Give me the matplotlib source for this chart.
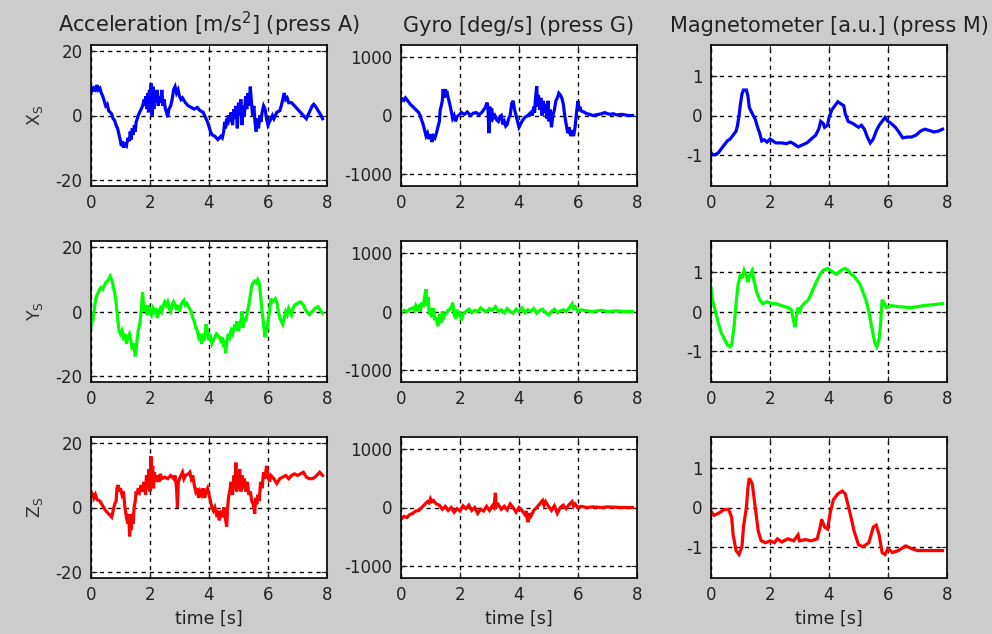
import matplotlib
matplotlib.use("Agg")
import matplotlib.pyplot as plt

plt.rcParams['font.family'] = ['DejaVu Sans']
plt.rcParams['mathtext.default'] = 'regular'
plt.rcParams['axes.unicode_minus'] = False

# (time [s], value) samples
acc_x = [(0.00, 7), (0.03, 9), (0.06, 7.5), (0.10, 8.5), (0.15, 8), (0.20, 9.5), (0.25, 8), (0.30, 8.5),
         (0.35, 7), (0.40, 6), (0.45, 4.5), (0.50, 3), (0.55, 3.5), (0.60, 1.5), (0.65, 1), (0.70, 0.5),
         (0.75, -1), (0.80, -1.5), (0.85, -3), (0.90, -4), (0.95, -6), (1.00, -8), (1.03, -9.5), (1.06, -8),
         (1.10, -10), (1.15, -9), (1.20, -9.5), (1.25, -7), (1.30, -8), (1.33, -5), (1.36, -7.5), (1.40, -4),
         (1.43, -6), (1.47, -3), (1.50, -5), (1.53, -2), (1.57, -1), (1.60, 0), (1.65, 1), (1.70, 2),
         (1.75, 3), (1.80, 5), (1.83, 3), (1.86, 6), (1.89, 2), (1.92, 7), (1.95, 1), (1.98, 8), (2.01, 3),
         (2.04, 10), (2.07, 0), (2.10, 9), (2.13, 2), (2.16, 7), (2.20, 4), (2.24, 8), (2.28, 3), (2.32, 6),
         (2.36, 4), (2.40, 8), (2.44, 3), (2.48, 5), (2.52, 2), (2.56, 1), (2.60, -0.5), (2.64, 2), (2.70, 3),
         (2.75, 5), (2.80, 8), (2.85, 9), (2.90, 7), (2.95, 8), (3.00, 6), (3.05, 5), (3.10, 5.5), (3.20, 4),
         (3.30, 3), (3.40, 2.5), (3.50, 2), (3.60, 2.5), (3.70, 1.5), (3.80, 1), (3.85, 0), (3.90, -1),
         (3.95, -2), (4.00, -3.5), (4.05, -5), (4.10, -6), (4.20, -6.5), (4.30, -7.5), (4.40, -6.5),
         (4.45, -7), (4.50, -5), (4.53, -2), (4.56, -4), (4.60, -1), (4.63, -3), (4.66, 0), (4.70, -2),
         (4.75, 1), (4.80, -3), (4.84, 2), (4.88, -1), (4.92, 3), (4.96, -4), (5.00, 4), (5.04, 0), (5.08, 5),
         (5.12, -3), (5.16, 3), (5.20, 0), (5.24, 6), (5.28, 2), (5.32, 7), (5.36, 3), (5.40, 9), (5.44, 4),
         (5.48, 0), (5.52, 3), (5.56, -2), (5.60, -5), (5.64, -1), (5.68, -4), (5.72, 0), (5.76, -2),
         (5.80, 1), (5.85, 3), (5.90, 2), (5.95, -1), (6.00, -3), (6.05, -2), (6.10, -1), (6.15, 0),
         (6.20, -1), (6.30, 1), (6.40, 1.5), (6.45, 3), (6.50, 5), (6.55, 7), (6.60, 5), (6.65, 5.5),
         (6.70, 4), (6.80, 4), (6.90, 3), (7.00, 2), (7.10, 1), (7.20, 0), (7.30, -1), (7.40, 1), (7.50, 3),
         (7.55, 3.5), (7.60, 3), (7.70, 1.5), (7.80, 0), (7.85, -1)]

gyro_x = [(0.00, 250), (0.05, 280), (0.10, 260), (0.15, 300), (0.20, 270), (0.30, 200), (0.40, 150),
          (0.50, 100), (0.60, 50), (0.65, 0), (0.70, -80), (0.75, -150), (0.80, -250), (0.85, -350),
          (0.90, -300), (0.95, -400), (1.00, -320), (1.05, -450), (1.10, -350), (1.15, -380), (1.20, -300),
          (1.25, -200), (1.30, -100), (1.33, 100), (1.36, 150), (1.40, 250), (1.43, 450), (1.46, 300),
          (1.49, 450), (1.52, 320), (1.55, 420), (1.60, 300), (1.65, 200), (1.70, 80), (1.75, -50),
          (1.80, 0), (1.85, -100), (1.90, -20), (1.95, 0), (2.05, 50), (2.15, 20), (2.25, 60), (2.35, 0),
          (2.45, 40), (2.55, 50), (2.65, 10), (2.75, 60), (2.85, 130), (2.92, 220), (2.95, 100),
          (2.98, -300), (3.01, 150), (3.04, -100), (3.07, 120), (3.12, -50), (3.18, 0), (3.25, -80),
          (3.30, -100), (3.35, -20), (3.40, 0), (3.45, -150), (3.50, -100), (3.55, -180), (3.60, -150),
          (3.65, -50), (3.70, 0), (3.75, 200), (3.80, 250), (3.85, 100), (3.90, 0), (3.95, -100),
          (4.00, -200), (4.05, -150), (4.10, -100), (4.20, -30), (4.30, 0), (4.40, 50), (4.45, 0),
          (4.50, 150), (4.53, 50), (4.56, 300), (4.60, 500), (4.63, 150), (4.66, 350), (4.70, 100),
          (4.74, 300), (4.78, 0), (4.82, 250), (4.86, 50), (4.90, 200), (4.94, -50), (4.98, 250),
          (5.02, -100), (5.06, 100), (5.10, -200), (5.15, 0), (5.20, 100), (5.25, 250), (5.30, 300),
          (5.35, 380), (5.40, 350), (5.45, 300), (5.50, 200), (5.55, 0), (5.60, -150), (5.65, -300),
          (5.70, -200), (5.75, -350), (5.80, -250), (5.85, -350), (5.90, -200), (5.95, 50), (6.00, 250),
          (6.03, 100), (6.06, 150), (6.10, 80), (6.20, 60), (6.30, 30), (6.40, 20), (6.50, 0), (6.60, 10),
          (6.70, 20), (6.80, 30), (6.90, 50), (7.00, 30), (7.10, 20), (7.20, 30), (7.30, 10), (7.50, 20),
          (7.70, 0), (7.85, 0)]

mag_x = [(0.00, -0.95), (0.05, -1.0), (0.15, -1.0), (0.25, -0.95), (0.35, -0.85), (0.45, -0.75),
         (0.55, -0.65), (0.65, -0.6), (0.75, -0.5), (0.85, -0.4), (0.90, -0.25), (0.95, 0.0), (1.00, 0.3),
         (1.05, 0.55), (1.10, 0.65), (1.20, 0.65), (1.25, 0.5), (1.30, 0.2), (1.40, 0.05), (1.50, -0.1),
         (1.58, -0.3), (1.65, -0.45), (1.72, -0.65), (1.80, -0.62), (1.90, -0.68), (2.00, -0.6),
         (2.10, -0.65), (2.20, -0.7), (2.40, -0.7), (2.55, -0.72), (2.70, -0.68), (2.80, -0.72),
         (2.95, -0.8), (3.10, -0.75), (3.25, -0.7), (3.40, -0.6), (3.55, -0.5), (3.65, -0.35),
         (3.72, -0.15), (3.80, -0.2), (3.85, -0.3), (3.95, -0.25), (4.00, -0.05), (4.10, 0.15),
         (4.20, 0.25), (4.30, 0.35), (4.40, 0.3), (4.50, 0.25), (4.55, 0.05), (4.65, -0.15), (4.80, -0.2),
         (4.90, -0.25), (5.00, -0.3), (5.10, -0.25), (5.20, -0.35), (5.30, -0.55), (5.40, -0.7),
         (5.50, -0.6), (5.60, -0.4), (5.70, -0.25), (5.80, -0.15), (5.90, -0.05), (6.00, -0.15),
         (6.10, -0.2), (6.25, -0.3), (6.35, -0.4), (6.50, -0.57), (6.65, -0.55), (6.80, -0.55),
         (6.95, -0.5), (7.10, -0.4), (7.25, -0.35), (7.40, -0.38), (7.55, -0.42), (7.70, -0.4),
         (7.85, -0.35)]

acc_y = [(0.00, -5), (0.03, -2), (0.06, -3), (0.10, 0), (0.13, 2), (0.16, 4), (0.20, 5), (0.25, 6),
         (0.30, 7), (0.35, 7.5), (0.40, 7), (0.45, 8), (0.50, 9), (0.55, 9.5), (0.60, 10), (0.65, 11),
         (0.70, 10), (0.75, 8), (0.80, 6), (0.85, 3), (0.90, -2), (0.95, -6), (1.00, -7), (1.05, -6),
         (1.10, -8), (1.15, -7), (1.20, -10), (1.25, -8), (1.30, -7), (1.35, -9), (1.40, -12), (1.45, -10),
         (1.50, -14), (1.55, -10), (1.60, -6), (1.65, -4), (1.70, 0), (1.75, 6), (1.78, 2), (1.82, 0),
         (1.86, 2), (1.90, -1), (1.95, 2), (2.00, 0), (2.05, -1), (2.10, 1), (2.15, 0), (2.20, 1),
         (2.25, -2), (2.30, 0), (2.35, 1), (2.40, 0), (2.45, 2), (2.50, 3), (2.55, 2), (2.60, 3), (2.65, 1),
         (2.70, 0), (2.75, 2), (2.80, 3), (2.85, 2), (2.90, 0.5), (2.95, 2), (3.00, 0), (3.05, 2), (3.10, 3),
         (3.15, 3.5), (3.20, 2), (3.25, 2.5), (3.30, 1.5), (3.40, 0), (3.45, -2), (3.50, -3), (3.55, -5),
         (3.60, -6), (3.65, -8), (3.70, -7), (3.75, -10), (3.80, -8), (3.85, -9), (3.90, -4), (3.95, -6),
         (4.00, -9), (4.05, -8), (4.10, -10), (4.15, -9), (4.20, -8), (4.25, -7), (4.30, -7.5), (4.35, -8),
         (4.40, -9), (4.45, -8), (4.50, -11), (4.53, -9), (4.56, -13), (4.60, -10), (4.65, -7), (4.70, -8),
         (4.75, -6), (4.80, -7), (4.85, -5), (4.90, -6), (4.95, -3), (5.00, -6), (5.05, -4), (5.10, -2),
         (5.12, 0), (5.15, -5), (5.20, -2), (5.25, -3), (5.30, 0), (5.35, 2), (5.40, 5), (5.45, 8),
         (5.50, 9), (5.55, 9.5), (5.60, 9), (5.65, 10), (5.70, 9), (5.75, 5), (5.80, 0), (5.85, -4),
         (5.90, -8), (5.93, -5), (5.96, -6), (6.00, -3), (6.05, 0), (6.10, 4), (6.15, 3), (6.20, 3.5),
         (6.25, 4), (6.30, 3), (6.35, 0), (6.40, -2), (6.45, -3), (6.50, -4), (6.55, -2), (6.60, 0),
         (6.65, -1), (6.70, 1), (6.75, 0), (6.80, -1), (6.85, 1), (6.90, 2), (7.00, 2.5), (7.10, 3),
         (7.20, 2), (7.30, 0), (7.40, -1), (7.45, -0.5), (7.50, 0), (7.60, 1), (7.70, 1.5), (7.80, 0),
         (7.85, -0.5)]

gyro_y = [(0.00, 0), (0.10, 20), (0.20, 0), (0.30, 40), (0.40, 60), (0.45, 20), (0.50, 100), (0.55, 40),
          (0.60, 80), (0.65, 0), (0.70, 150), (0.75, 80), (0.80, 250), (0.85, 380), (0.88, 100),
          (0.92, 250), (0.96, -50), (1.00, 50), (1.05, -100), (1.10, 60), (1.15, -150), (1.20, -100),
          (1.25, -250), (1.30, -50), (1.35, -200), (1.40, 0), (1.45, -100), (1.50, -50), (1.60, 20),
          (1.70, 60), (1.75, 150), (1.80, -50), (1.85, -120), (1.90, 30), (1.95, -80), (2.00, 0),
          (2.05, -150), (2.10, -50), (2.20, 0), (2.30, 40), (2.40, -20), (2.50, 20), (2.60, 0), (2.70, 60),
          (2.80, 20), (2.90, 0), (3.00, 50), (3.10, 20), (3.20, 80), (3.30, 0), (3.40, 30), (3.50, -20),
          (3.60, 50), (3.70, 0), (3.80, -30), (3.90, 40), (4.00, 0), (4.10, 60), (4.20, -20), (4.30, 30),
          (4.40, 0), (4.50, 50), (4.60, -30), (4.70, 20), (4.80, 40), (4.90, -20), (5.00, -60), (5.10, 0),
          (5.20, 40), (5.30, -20), (5.40, 10), (5.50, 30), (5.60, 0), (5.70, 60), (5.80, 130), (5.85, 50),
          (5.90, 80), (6.00, 0), (6.10, 30), (6.30, 10), (6.50, 0), (6.80, 20), (7.00, 0), (7.30, 10),
          (7.60, 0), (7.85, 0)]

mag_y = [(0.00, 0.6), (0.05, 0.3), (0.15, 0.0), (0.25, -0.3), (0.35, -0.55), (0.45, -0.7), (0.55, -0.85),
         (0.65, -0.9), (0.70, -0.85), (0.78, -0.4), (0.85, 0.2), (0.92, 0.7), (1.00, 0.95), (1.05, 0.85),
         (1.12, 1.05), (1.20, 0.9), (1.25, 0.75), (1.32, 0.95), (1.40, 1.05), (1.45, 0.8), (1.55, 0.5),
         (1.65, 0.3), (1.75, 0.2), (1.90, 0.25), (2.05, 0.2), (2.20, 0.2), (2.40, 0.15), (2.60, 0.1),
         (2.72, 0.05), (2.80, -0.25), (2.85, -0.4), (2.90, -0.1), (2.95, 0.1), (3.00, -0.05), (3.05, 0.1),
         (3.15, 0.2), (3.30, 0.3), (3.45, 0.55), (3.60, 0.8), (3.70, 0.95), (3.80, 1.05), (3.95, 1.1),
         (4.05, 1.05), (4.15, 1.0), (4.25, 0.95), (4.40, 1.05), (4.55, 1.1), (4.65, 1.05), (4.75, 0.95),
         (4.85, 0.9), (4.95, 0.8), (5.05, 0.7), (5.15, 0.5), (5.25, 0.3), (5.35, 0.0), (5.45, -0.4),
         (5.55, -0.8), (5.62, -0.9), (5.70, -0.7), (5.75, -0.3), (5.80, 0.3), (5.88, 0.2), (5.95, 0.1),
         (6.10, 0.15), (6.40, 0.12), (6.80, 0.1), (7.20, 0.15), (7.60, 0.18), (7.85, 0.2)]

acc_z = [(0.00, 5), (0.03, 3), (0.06, 4.5), (0.10, 3), (0.15, 4), (0.20, 2.5), (0.30, 2), (0.40, 0.5),
         (0.50, -1), (0.60, -2), (0.70, -3), (0.75, -1), (0.80, 1), (0.85, 2), (0.88, 6), (0.92, 7),
         (0.96, 5), (1.00, 6), (1.05, 4), (1.10, 5), (1.15, 0), (1.20, -3), (1.25, -5), (1.28, -2),
         (1.31, -9), (1.34, -4), (1.37, -7), (1.40, -2), (1.43, -5), (1.46, 0), (1.50, 2), (1.53, 5),
         (1.56, 4), (1.60, 6), (1.65, 5), (1.70, 7), (1.75, 5), (1.80, 8), (1.85, 4), (1.88, 10), (1.92, 6),
         (1.96, 12), (2.00, 5), (2.03, 16), (2.06, 8), (2.09, 13), (2.12, 6), (2.15, 11), (2.20, 8),
         (2.25, 10), (2.30, 8), (2.35, 10.5), (2.40, 9), (2.50, 9.5), (2.60, 9), (2.70, 10), (2.80, 9),
         (2.85, 10), (2.90, 6), (2.93, 0), (2.96, 8), (3.00, 9), (3.05, 10), (3.10, 11), (3.15, 9),
         (3.20, 10), (3.30, 10.5), (3.35, 11), (3.40, 9), (3.45, 10), (3.50, 7), (3.55, 5), (3.60, 6),
         (3.65, 3), (3.70, 5), (3.75, 4), (3.80, 6), (3.85, 3), (3.90, 5), (3.95, 6), (4.00, 4), (4.05, 2),
         (4.10, 0), (4.15, -1), (4.20, 0), (4.25, -2), (4.30, -1), (4.35, -4), (4.40, -2), (4.45, -3),
         (4.50, 0), (4.55, -3), (4.60, -6), (4.63, 0), (4.66, 3), (4.70, 5), (4.75, 8), (4.80, 4),
         (4.85, 10), (4.88, 6), (4.91, 14), (4.94, 5), (4.97, 11), (5.00, 6), (5.04, 12), (5.08, 5),
         (5.12, 10), (5.16, 6), (5.20, 9), (5.25, 5), (5.30, 8), (5.35, 4), (5.40, 5), (5.45, 2), (5.50, 1),
         (5.55, -2), (5.58, 3), (5.62, 1), (5.66, 4), (5.70, 2), (5.75, 8), (5.80, 6), (5.85, 11),
         (5.90, 9), (5.95, 13), (6.00, 10), (6.05, 8), (6.10, 10), (6.20, 9), (6.30, 7.5), (6.40, 9),
         (6.50, 9.5), (6.60, 10), (6.70, 9), (6.80, 10), (6.90, 10.5), (7.00, 10), (7.10, 10.5), (7.20, 11),
         (7.30, 9.5), (7.40, 9), (7.50, 9), (7.60, 9.5), (7.70, 10.5), (7.75, 11), (7.85, 10)]

gyro_z = [(0.00, -200), (0.10, -150), (0.20, -170), (0.30, -120), (0.40, -100), (0.50, -60), (0.60, -50),
          (0.70, 0), (0.80, 50), (0.90, 100), (0.95, 80), (1.00, 150), (1.05, 100), (1.10, 120), (1.20, 60),
          (1.30, 40), (1.40, -30), (1.50, 20), (1.60, -50), (1.70, 0), (1.80, -80), (1.90, -20), (2.00, -60),
          (2.10, 30), (2.20, -20), (2.30, 40), (2.40, -50), (2.50, 0), (2.60, -100), (2.70, -30),
          (2.80, -60), (2.90, 20), (3.00, -50), (3.10, 30), (3.15, 0), (3.20, 250), (3.23, 20), (3.30, 50),
          (3.40, -30), (3.50, 20), (3.60, -40), (3.70, 60), (3.80, 0), (3.90, -80), (4.00, 0), (4.10, -50),
          (4.20, -120), (4.25, -60), (4.30, -250), (4.35, -100), (4.40, -150), (4.50, -50), (4.60, 0),
          (4.70, 60), (4.80, 120), (4.85, 40), (4.90, 100), (5.00, 20), (5.10, -50), (5.20, 30),
          (5.30, -100), (5.40, 0), (5.50, 40), (5.60, -20), (5.70, 50), (5.80, 100), (5.85, 20), (5.90, 60),
          (6.00, 0), (6.10, 20), (6.30, 0), (6.50, 10), (6.80, 0), (7.00, 10), (7.50, 0), (7.85, 0)]

mag_z = [(0.00, -0.1), (0.10, -0.2), (0.25, -0.15), (0.45, -0.05), (0.60, -0.05), (0.70, -0.25),
         (0.75, -0.7), (0.85, -1.1), (0.95, -1.2), (1.05, -1.0), (1.10, -0.5), (1.20, 0.0), (1.25, 0.5),
         (1.30, 0.75), (1.40, 0.6), (1.50, 0.0), (1.60, -0.6), (1.70, -0.85), (1.85, -0.9), (2.00, -0.85),
         (2.15, -0.9), (2.25, -0.8), (2.40, -0.88), (2.60, -0.8), (2.80, -0.85), (2.95, -0.7), (3.00, -0.85),
         (3.20, -0.82), (3.40, -0.85), (3.60, -0.8), (3.70, -0.5), (3.75, -0.3), (3.85, -0.5), (3.95, -0.55),
         (4.05, -0.1), (4.15, 0.2), (4.30, 0.35), (4.45, 0.42), (4.55, 0.35), (4.70, -0.1), (4.85, -0.6),
         (5.00, -0.95), (5.15, -1.0), (5.35, -0.9), (5.50, -0.5), (5.60, -0.45), (5.70, -0.7), (5.80, -1.15),
         (5.90, -1.2), (6.00, -1.05), (6.15, -1.15), (6.35, -1.1), (6.60, -0.98), (6.80, -1.05),
         (7.00, -1.1), (7.40, -1.1), (7.85, -1.1)]

col_titles = ['Acceleration [m/s$^2$] (press A)', 'Gyro [deg/s] (press G)', 'Magnetometer [a.u.] (press M)']
row_labels = ['X$_S$', 'Y$_S$', 'Z$_S$']
row_colors = ['#0000ff', '#00ff00', '#ff0000']
col_ylims = [(-22, 22), (-1200, 1200), (-1.8, 1.8)]
col_yticks = [[-20, 0, 20], [-1000, 0, 1000], [-1, 0, 1]]
xticks = [0, 2, 4, 6, 8]

grid = [[acc_x, gyro_x, mag_x],
        [acc_y, gyro_y, mag_y],
        [acc_z, gyro_z, mag_z]]

W, H = 992, 634
col_left = [91, 401, 711]
row_top = [45, 241, 437]
ax_w, ax_h = 236, 141

fig = plt.figure(figsize=(W / 100, H / 100), dpi=100, facecolor='#cccccc')

for r in range(3):
    for c in range(3):
        ax = fig.add_axes([col_left[c] / W, 1 - (row_top[r] + ax_h) / H, ax_w / W, ax_h / H])
        ax.set_facecolor('white')
        pts = grid[r][c]
        t = [p[0] for p in pts]
        v = [p[1] for p in pts]
        ax.plot(t, v, color=row_colors[r], lw=2.3, solid_joinstyle='miter')
        ax.set_xlim(0, 8)
        ax.set_ylim(*col_ylims[c])
        ax.set_xticks(xticks)
        ax.set_yticks(col_yticks[c])
        ax.grid(True, color='black', linestyle=(0, (3, 3)), lw=1)
        ax.tick_params(direction='in', top=True, right=True, length=4, labelsize=12,
                       colors='#222222', pad=6)
        for s in ax.spines.values():
            s.set_color('black')
            s.set_linewidth(1.2)
        if r == 0:
            ax.set_title(col_titles[c], fontsize=15, color='#222222', pad=9)
        if c == 0:
            ax.set_ylabel(row_labels[r], fontsize=12.5, color='#333333', labelpad=8)
        if r == 2:
            ax.set_xlabel('time [s]', fontsize=12.5, color='#222222', labelpad=4)

plt.savefig('out.png', dpi=100, facecolor=fig.get_facecolor())
